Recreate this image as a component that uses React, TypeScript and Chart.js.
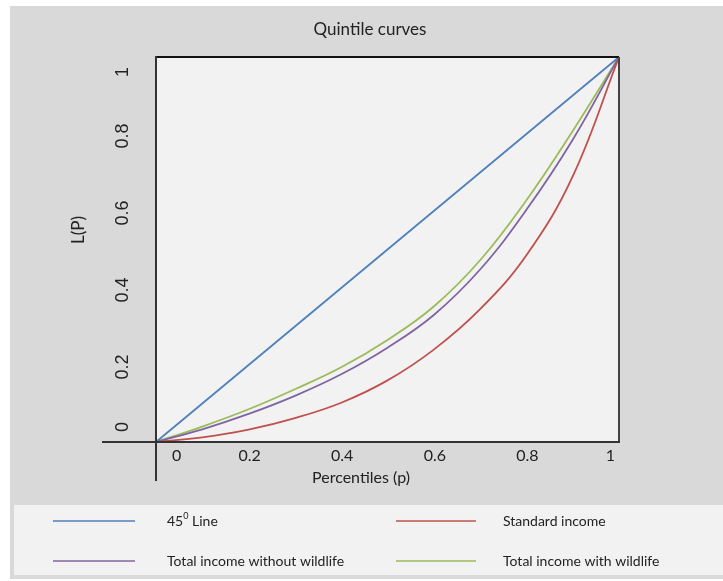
import React, { useEffect, useRef } from "react";
import { Chart, registerables } from "chart.js";

Chart.register(...registerables);

const percentiles = [0, 0.1, 0.2, 0.3, 0.4, 0.5, 0.6, 0.7, 0.8, 0.9, 1];
const line45 = [0, 0.1, 0.2, 0.3, 0.4, 0.5, 0.6, 0.7, 0.8, 0.9, 1];
const standardIncome = [0, 0.012, 0.032, 0.062, 0.102, 0.16, 0.24, 0.345, 0.485, 0.69, 1];
const withoutWildlife = [0, 0.033, 0.073, 0.12, 0.176, 0.245, 0.33, 0.448, 0.603, 0.785, 1];
const withWildlife = [0, 0.04, 0.085, 0.137, 0.194, 0.265, 0.352, 0.472, 0.628, 0.808, 1];

const xTicks = [0, 0.2, 0.4, 0.6, 0.8, 1];
const xTickLabels = ["0", "0.2", "0.4", "0.6", "0.8", "1"];
const yTicks = [0, 0.2, 0.4, 0.6, 0.8, 1];
const yTickLabels = ["0", "0.2", "0.4", "0.6", "0.8", "1"];

const seriesLabels = ["45⁰ Line", "Standard income", "Total income without wildlife", "Total income with wildlife"];
const seriesColors = ["#4f81bd", "#c0504d", "#8064a2", "#9bbb59"];

const titleText = "Quintile curves";
const xTitle = "Percentiles (p)";
const yTitle = "L(P)";

const W = 723;
const H = 581;
const CALIBRI = "Lato, 'Open Sans', sans-serif";
const ARIAL = "'Liberation Sans', Arial, sans-serif";

function toPoints(arr: number[]) {
  return percentiles.map((p, i) => ({ x: p, y: arr[i] }));
}

const customPlugin = {
  id: "customDraw",
  beforeDraw(chart: any) {
    const { ctx, chartArea: a } = chart;
    ctx.save();
    ctx.fillStyle = "#ffffff";
    ctx.fillRect(0, 0, W, H);
    ctx.fillStyle = "#d9d9d9";
    ctx.fillRect(10, 6, W - 10, 573);
    ctx.fillStyle = "#f2f2f2";
    ctx.fillRect(14, 505, W - 14, 70);
    ctx.fillRect(a.left, a.top, a.right - a.left, a.bottom - a.top);
    ctx.restore();
  },
  afterDatasetsDraw(chart: any) {
    const { ctx, chartArea: a } = chart;
    ctx.save();
    ctx.strokeStyle = "#111111";
    ctx.lineWidth = 2;
    ctx.beginPath();
    ctx.moveTo(a.left, a.top);
    ctx.lineTo(a.right, a.top);
    ctx.stroke();
    ctx.strokeStyle = "#444444";
    ctx.beginPath();
    ctx.moveTo(a.right, a.top);
    ctx.lineTo(a.right, a.bottom);
    ctx.stroke();
    ctx.strokeStyle = "#333333";
    ctx.beginPath();
    ctx.moveTo(102, a.bottom);
    ctx.lineTo(a.right + 1, a.bottom);
    ctx.stroke();
    ctx.beginPath();
    ctx.moveTo(a.left, a.top - 1);
    ctx.lineTo(a.left, 481);
    ctx.stroke();
    ctx.restore();
  },
  afterDraw(chart: any) {
    const { ctx, scales } = chart;
    const xs = scales.x;
    const ys = scales.y;
    ctx.save();
    ctx.fillStyle = "#222222";
    ctx.textBaseline = "middle";

    ctx.font = `17px ${CALIBRI}`;
    ctx.textAlign = "center";
    ctx.fillText(titleText, 370, 30);

    ctx.font = `16px ${CALIBRI}`;
    xTicks.forEach((v, i) => {
      const px = xs.getPixelForValue(v);
      if (i === 0) {
        ctx.textAlign = "left";
        ctx.fillText(xTickLabels[i], px + 16, 456);
      } else if (i === xTicks.length - 1) {
        ctx.textAlign = "right";
        ctx.fillText(xTickLabels[i], px - 4, 456);
      } else {
        ctx.textAlign = "center";
        ctx.fillText(xTickLabels[i], px + 1, 456);
      }
    });

    ctx.textAlign = "center";
    ctx.font = `16px ${CALIBRI}`;
    ctx.fillText(xTitle, 361, 478);

    ctx.font = `18px ${ARIAL}`;
    yTicks.forEach((v, i) => {
      const py = ys.getPixelForValue(v);
      ctx.save();
      let ty = py + 2;
      let align: CanvasTextAlign = "center";
      if (i === 0) {
        ty = py - 10;
        align = "left";
      } else if (i === yTicks.length - 1) {
        ty = py + 10;
        align = "right";
      }
      ctx.translate(123, ty);
      ctx.rotate(-Math.PI / 2);
      ctx.textAlign = align;
      ctx.fillText(yTickLabels[i], 0, 0);
      ctx.restore();
    });

    ctx.save();
    ctx.font = `17px ${CALIBRI}`;
    ctx.translate(79, 230);
    ctx.rotate(-Math.PI / 2);
    ctx.textAlign = "center";
    ctx.fillText(yTitle, 0, 0);
    ctx.restore();

    const ds = chart.data.datasets;
    const cols = [
      { lx0: 53, lx1: 135, tx: 167 },
      { lx0: 396, lx1: 476, tx: 503 },
    ];
    const rows = [521, 561];
    ds.forEach((d: any, i: number) => {
      const c = cols[i % 2];
      const y = rows[Math.floor(i / 2)];
      ctx.strokeStyle = d.borderColor;
      ctx.lineWidth = 1.6;
      ctx.beginPath();
      ctx.moveTo(c.lx0, y);
      ctx.lineTo(c.lx1, y);
      ctx.stroke();
      ctx.fillStyle = "#222222";
      ctx.textAlign = "left";
      ctx.font = `14px ${CALIBRI}`;
      const label: string = d.label;
      const supIdx = label.indexOf("⁰");
      if (supIdx >= 0) {
        const pre = label.slice(0, supIdx);
        const post = label.slice(supIdx + 1);
        ctx.fillText(pre, c.tx, y);
        let x = c.tx + ctx.measureText(pre).width;
        ctx.font = `9px ${CALIBRI}`;
        ctx.fillText("0", x, y - 5);
        x += ctx.measureText("0").width;
        ctx.font = `14px ${CALIBRI}`;
        ctx.fillText(post, x, y);
      } else {
        ctx.fillText(label, c.tx, y);
      }
    });
    ctx.restore();
  },
};

export default function App() {
  const ref = useRef<HTMLCanvasElement | null>(null);
  useEffect(() => {
    document.body.style.margin = "0";
    const canvas = ref.current;
    if (!canvas) return;
    const series = [line45, standardIncome, withoutWildlife, withWildlife];
    const chart = new Chart(canvas, {
      type: "line",
      data: {
        datasets: series.map((s, i) => ({
          label: seriesLabels[i],
          data: toPoints(s),
          borderColor: seriesColors[i],
          backgroundColor: seriesColors[i],
          borderWidth: 1.8,
          pointRadius: 0,
          fill: false,
          tension: 0.4,
        })),
      },
      options: {
        animation: false,
        responsive: false,
        devicePixelRatio: 1,
        events: [],
        layout: {
          autoPadding: false,
          padding: { left: 156, right: W - 619, top: 57, bottom: H - 442 },
        },
        plugins: {
          legend: { display: false },
          title: { display: false },
          tooltip: { enabled: false },
        },
        scales: {
          x: { type: "linear", min: 0, max: 1, display: false },
          y: { type: "linear", min: 0, max: 1, display: false },
        },
      },
      plugins: [customPlugin],
    });
    return () => chart.destroy();
  }, []);
  return (
    <div style={{ width: W, height: H }}>
      <canvas ref={ref} width={W} height={H} style={{ display: "block", width: W, height: H }} />
    </div>
  );
}
